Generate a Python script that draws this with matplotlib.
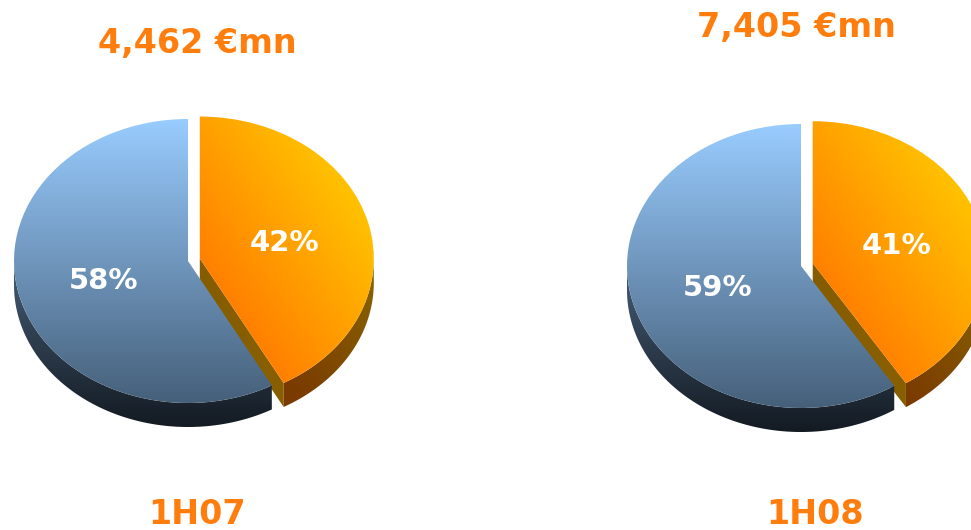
import numpy as np
import matplotlib
matplotlib.use("Agg")
import matplotlib.pyplot as plt
from matplotlib.colors import LinearSegmentedColormap as LSC
from matplotlib.patches import Polygon

W, H = 971, 530
categories = ["Blue share", "Orange share"]
shares_1h07 = [58, 42]
shares_1h08 = [59, 41]
period_labels = ["1H07", "1H08"]
total_labels = ["4,462 €mn", "7,405 €mn"]

RX, RY = 174, 142
DEPTH = 24 / RY
SPAN = 1.35
ORANGE = "#FF7D0C"

blue_top = LSC.from_list("bt", ["#46607A", "#99CCFF"])
blue_side = LSC.from_list("bs", ["#131A22", "#445A72"])
orange_top = LSC.from_list("ot", ["#FF8000", "#FFC000"])
orange_side = LSC.from_list("os", ["#7A3A00", "#8A6A00"])
orange_cut = LSC.from_list("oc", ["#7D5600", "#8C6200"])

fig = plt.figure(figsize=(W / 100, H / 100), dpi=100, facecolor="white")


def arc(wedge, a0, a1, shift=0.0):
    t = np.radians(np.linspace(a0, a1, 200))
    cx, cy = wedge.center
    return np.column_stack([cx + wedge.r * np.cos(t), cy + wedge.r * np.sin(t) - shift])


def paint(ax, clip, field, cmap, z):
    ys, xs = np.mgrid[-SPAN:SPAN:500j, -SPAN:SPAN:500j]
    im = ax.imshow(field(xs, ys), origin="lower", extent=(-SPAN, SPAN, -SPAN, SPAN),
                   cmap=cmap, vmin=0, vmax=1, aspect="auto", zorder=z,
                   interpolation="bilinear")
    im.set_clip_path(clip)


def draw_pie(shares, cx, cy):
    ax = fig.add_axes([(cx - SPAN * RX) / W, 1 - (cy + SPAN * RY) / H,
                       2 * SPAN * RX / W, 2 * SPAN * RY / H])
    wedges, _, pcts = ax.pie(shares, explode=[0, 0.07], startangle=90,
                             autopct="%.0f%%", pctdistance=0.5, radius=1,
                             colors=["none", "none"],
                             wedgeprops={"edgecolor": "none", "linewidth": 0},
                             textprops={"color": "white", "fontweight": "bold",
                                        "fontsize": 21, "zorder": 20})
    ax.set_aspect("auto")
    blue, orange = wedges
    for p in pcts:
        x, y = p.get_position()
        p.set_position((x, y - 2.5 / RY))

    def o_dir(x, y):
        ox, oy = orange.center
        return np.clip(((x - ox) * RX * 0.823 + (y - oy) * RY * 0.569) / 160, 0, 1)

    # orange cut face
    a_end = orange.theta1
    p_end = arc(orange, a_end, a_end + 1e-6)[0]
    cut = Polygon([orange.center, p_end, p_end - [0, DEPTH],
                   np.array(orange.center) - [0, DEPTH]], closed=True,
                  transform=ax.transData, fc="none", ec="none")
    ax.add_patch(cut)
    paint(ax, cut, lambda x, y: (x + 1) / 2, orange_cut, 1)

    # orange outer side
    top = arc(orange, a_end, 360)
    low = arc(orange, 360, a_end, DEPTH)
    side_o = Polygon(np.vstack([top, low]), closed=True, transform=ax.transData,
                     fc="none", ec="none")
    ax.add_patch(side_o)
    paint(ax, side_o, o_dir, orange_side, 2)

    # blue outer side
    top = arc(blue, 180, blue.theta2)
    low = arc(blue, blue.theta2, 180, DEPTH)
    side_b = Polygon(np.vstack([top, low]), closed=True, transform=ax.transData,
                     fc="none", ec="none")
    ax.add_patch(side_b)
    paint(ax, side_b, lambda x, y: np.clip((y + 1 + DEPTH) / (1 + DEPTH - 0.06), 0, 1),
          blue_side, 3)

    # top faces
    paint(ax, blue, lambda x, y: np.clip((y + 1) / 2, 0, 1), blue_top, 4)
    paint(ax, orange, o_dir, orange_top, 5)

    ax.set_xlim(-SPAN, SPAN)
    ax.set_ylim(-SPAN, SPAN)
    ax.axis("off")


draw_pie(shares_1h07, 188, 261)
draw_pie(shares_1h08, 801, 266)

for label, x, y in [(total_labels[0], 197, 43), (total_labels[1], 796, 28),
                    (period_labels[0], 197, 515), (period_labels[1], 815, 515)]:
    fig.text(x / W, 1 - y / H, label, color=ORANGE, fontweight="bold", fontsize=24,
             ha="center", va="center", family="DejaVu Sans")

fig.savefig("out.png", dpi=100)
